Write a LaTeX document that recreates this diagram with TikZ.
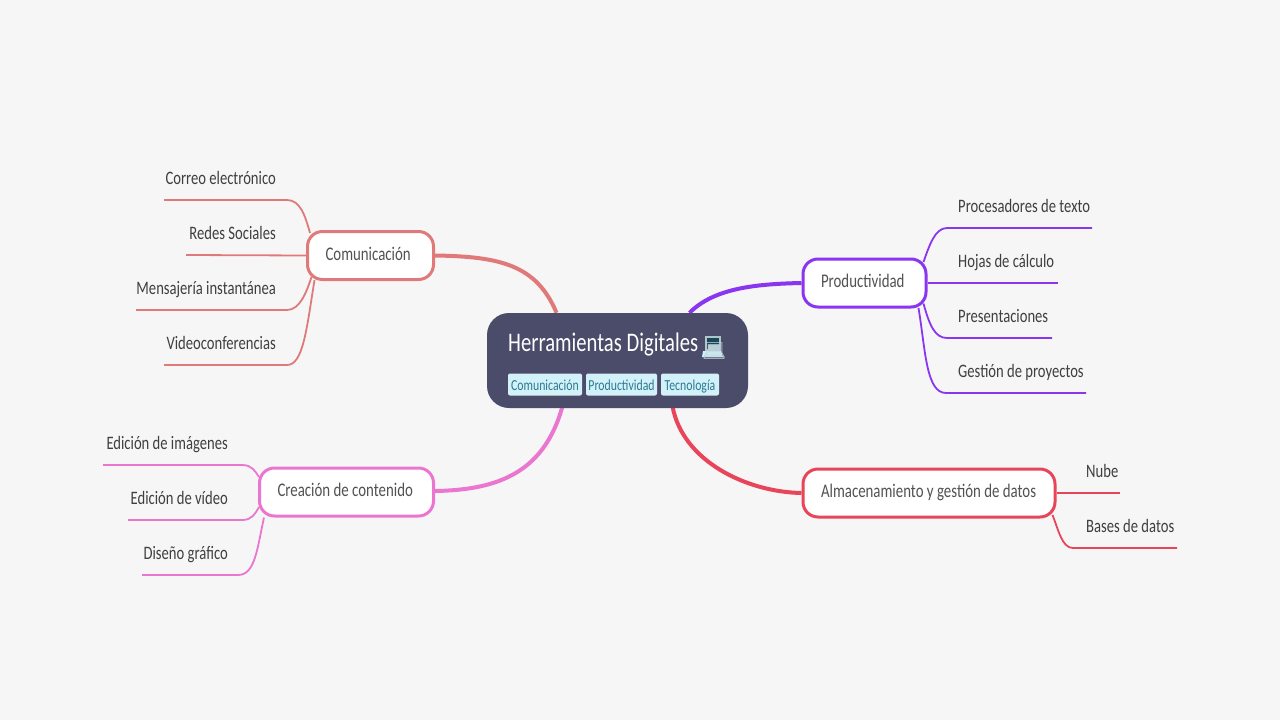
\documentclass[tikz,border=0pt]{standalone}
\usepackage{fontspec}
\setmainfont[FakeStretch=0.77]{Carlito}
\newfontfamily\emojifont{Noto Emoji}
\usetikzlibrary{backgrounds,calc}
\definecolor{pagebg}{HTML}{F6F6F6}
\definecolor{hubfill}{HTML}{4B4C6A}
\definecolor{tagfill}{HTML}{D3F1F9}
\definecolor{tagtext}{HTML}{2A7A92}
\definecolor{ink}{HTML}{3F3F3F}
\definecolor{comc}{HTML}{E07A7A}
\definecolor{proc}{HTML}{8A35F0}
\definecolor{crec}{HTML}{EA76D0}
\definecolor{almc}{HTML}{E8445A}
\tikzset{
  x=1pt,y=-1pt,
  branchbox/.style={draw=#1,fill=white,line width=3pt,rounded corners=15pt,inner ysep=0pt,inner xsep=18pt,minimum height=48pt,text=ink!90!white,text height=12pt,text depth=3pt,font=\fontsize{19.3}{22}\selectfont},
  leaftext/.style={inner sep=0pt,text=ink,font=\fontsize{19}{22}\selectfont,minimum height=44pt,text height=14pt,text depth=1pt},
  tagbox/.style={fill=tagfill,text=tagtext,rounded corners=2pt,inner sep=0pt,minimum height=22pt,text height=11pt,text depth=0pt,font=\fontsize{15.3}{18}\selectfont},
  trunk/.style={draw=#1,line width=4pt},
  twig/.style={draw=#1,line width=1.8pt},
}
\begin{document}
\begin{tikzpicture}
\useasboundingbox (0,0) rectangle (1280,720);
% hub
\node[fill=hubfill,rounded corners=22pt,minimum width=261pt,minimum height=95pt,inner sep=0pt] (hub) at (617.5,360.5) {};
\node[anchor=base west,inner sep=0pt,text=white,font=\fontsize{26.8}{30}\selectfont] (title) at (508,351.5) {Herramientas Digitales};
\fill[tagfill!60!gray] (705,336) rectangle (721,351);
\fill[fill=tagtext!60!black] (707,338) rectangle (719,349);
\fill[tagfill] (703,351) -- (721,351) -- (723,357) -- (702,357) -- cycle;
\node[anchor=base west,inner sep=0pt,text=tagfill!70!gray,font=\fontsize{19}{24}\emojifont] (laptop) at (702,357) {💻};
\node[tagbox,minimum width=74pt] (tag1) at (545,384.5) {Comunicación};
\node[tagbox,minimum width=71pt] (tag2) at (621.5,384.5) {Productividad};
\node[tagbox,minimum width=58pt] (tag3) at (690,384.5) {Tecnología};
% branches
\node[branchbox=comc] (com) at (370.5,255.5) {\makebox[90pt][l]{Comunicación}};
\node[branchbox=proc] (pro) at (864.5,283) {\makebox[87pt][l]{Productividad}};
\node[branchbox=crec] (cre) at (346.5,492) {\makebox[138pt][l]{Creación de contenido}};
\node[branchbox=almc] (alm) at (929,493) {\makebox[216pt][l]{Almacenamiento y gestión de datos}};
% leaves
\node[leaftext,anchor=south east] (l1) at (276,200) {Correo electrónico};
\node[leaftext,anchor=south east] (l2) at (276,255) {Redes Sociales};
\node[leaftext,anchor=south east] (l3) at (276,310) {Mensajería instantánea};
\node[leaftext,anchor=south east] (l4) at (276,365) {Videoconferencias};
\node[leaftext,anchor=south west] (r1) at (958,228) {Procesadores de texto};
\node[leaftext,anchor=south west] (r2) at (958,283) {Hojas de cálculo};
\node[leaftext,anchor=south west] (r3) at (958,338) {Presentaciones};
\node[leaftext,anchor=south west] (r4) at (958,393) {Gestión de proyectos};
\node[leaftext,anchor=south east] (c1) at (228,465) {Edición de imágenes};
\node[leaftext,anchor=south east] (c2) at (228,520) {Edición de vídeo};
\node[leaftext,anchor=south east] (c3) at (228,575) {Diseño gráfico};
\node[leaftext,anchor=south west] (a1) at (1086,493) {Nube};
\node[leaftext,anchor=south west] (a2) at (1086,548) {Bases de datos};
\begin{scope}[on background layer]
\fill[pagebg] (0,0) rectangle (1280,720);
% trunks
\draw[trunk=comc] (com.east) .. controls +(65,1) and +(-20,-48) .. ([xshift=-61pt]hub.north);
\draw[trunk=proc] (pro.west) .. controls +(-45,1) and +(25,-25) .. ([xshift=72pt]hub.north);
\draw[trunk=crec] ([yshift=1pt]cre.east) .. controls +(65,-1) and +(-18,65) .. ([xshift=-55pt,yshift=2pt]hub.south);
\draw[trunk=almc] (alm.west) .. controls +(-55,-1) and +(10,55) .. ([xshift=55pt,yshift=2pt]hub.south);
% twigs
\draw[twig=comc] ($(com.north west)+(4,3)$) .. controls +(-5,-18) and +(13,0) .. ([xshift=11pt]l1.south east) -- ([xshift=-112pt]l1.south east);
\draw[twig=comc] (com.west) -- ([xshift=-90pt]l2.south east);
\draw[twig=comc] ($(com.south west)+(5.5,-4)$) .. controls +(-5,15) and +(13,0) .. ([xshift=11pt]l3.south east) -- ([xshift=-140pt]l3.south east);
\draw[twig=comc] ($(com.south west)+(8.5,-1)$) .. controls +(-8,50) and +(16,0) .. ([xshift=11pt]l4.south east) -- ([xshift=-112pt]l4.south east);
\draw[twig=proc] ($(pro.north east)+(-4,4.5)$) .. controls +(6,-17) and +(-12,0) .. ([xshift=-11pt]r1.south west) -- ([xshift=134pt]r1.south west);
\draw[twig=proc] (pro.east) -- ([xshift=100pt]r2.south west);
\draw[twig=proc] ($(pro.south east)+(-4,-5)$) .. controls +(6,22) and +(-12,0) .. ([xshift=-11pt]r3.south west) -- ([xshift=94pt]r3.south west);
\draw[twig=proc] ($(pro.south east)+(-9,-0.5)$) .. controls +(7,42) and +(-20,0) .. ([xshift=-12pt]r4.south west) -- ([xshift=128pt]r4.south west);
\draw[twig=crec] ($(cre.north west)+(1,10.5)$) .. controls +(-4,-6) and +(10,0) .. ([xshift=14pt]c1.south east) -- ([xshift=-125pt]c1.south east);
\draw[twig=crec] ($(cre.south west)+(1,-10.5)$) .. controls +(-4,7) and +(10,0) .. ([xshift=14pt]c2.south east) -- ([xshift=-100pt]c2.south east);
\draw[twig=crec] ($(cre.south west)+(6,0)$) .. controls +(-7,32) and +(17,0) .. ([xshift=10pt]c3.south east) -- ([xshift=-86pt]c3.south east);
\draw[twig=almc] (alm.east) -- ([xshift=34pt]a1.south west);
\draw[twig=almc] ($(alm.south east)+(-4,-3.5)$) .. controls +(6,15) and +(-11,0) .. ([xshift=-13pt]a2.south west) -- ([xshift=91pt]a2.south west);
\end{scope}
\end{tikzpicture}
\end{document}
